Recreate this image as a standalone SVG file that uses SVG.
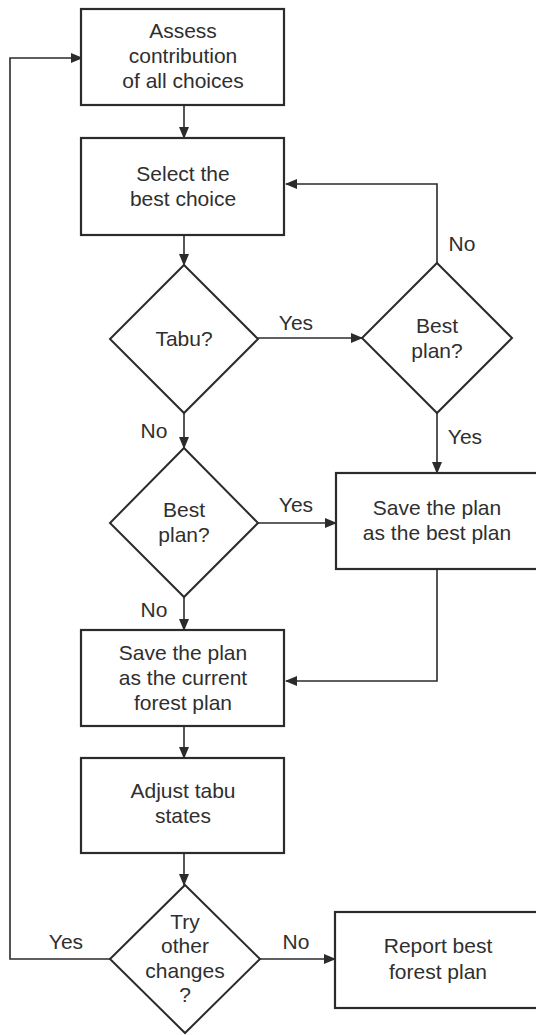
<svg xmlns="http://www.w3.org/2000/svg" width="536" height="1035" viewBox="0 0 536 1035">
  <style>
    .box { fill: #fff; stroke: #2b2b2b; stroke-width: 2.2; }
    .dia { fill: #fff; stroke: #2b2b2b; stroke-width: 2; stroke-linejoin: miter; }
    .lbl { font-family: "Liberation Sans", Arial, sans-serif; font-size: 21px; fill: #2f2f2f; text-anchor: middle; }
    .edge { fill: none; stroke: #2b2b2b; stroke-width: 1.6; marker-end: url(#arrow); }
  </style>
  <defs>
    <marker id="arrow" markerUnits="userSpaceOnUse" markerWidth="12" markerHeight="10" refX="11" refY="5" orient="auto">
      <path d="M0,0 L12,5 L0,10 Z" fill="#2b2b2b"/>
    </marker>
  </defs>
  <rect width="536" height="1035" fill="#fff"/>

  <!-- connectors and their labels -->
  <g id="connectors">
    <path class="edge" d="M184,105 V138"/>
    <path class="edge" d="M184,235 V265"/>
    <path class="edge" d="M258,338 H362"/>
    <path class="edge" d="M437,263 V184 H286"/>
    <path class="edge" d="M437,413 V473"/>
    <path class="edge" d="M184,413 V448"/>
    <path class="edge" d="M258,523 H336"/>
    <path class="edge" d="M184,597 V630"/>
    <path class="edge" d="M437,569 V681 H286"/>
    <path class="edge" d="M184,726 V758"/>
    <path class="edge" d="M184,853 V885"/>
    <path class="edge" d="M260,959 H335"/>
    <path class="edge" d="M110,959 H10 V58 H82"/>
    <text class="lbl" x="296" y="330">Yes</text>
    <text class="lbl" x="462" y="251">No</text>
    <text class="lbl" x="465" y="444">Yes</text>
    <text class="lbl" x="154" y="438">No</text>
    <text class="lbl" x="296" y="512">Yes</text>
    <text class="lbl" x="154" y="617">No</text>
    <text class="lbl" x="66" y="949">Yes</text>
    <text class="lbl" x="296" y="949">No</text>
  </g>

  <g id="assess">
    <rect class="box" x="81" y="9" width="203" height="96"/>
    <text class="lbl" x="183" y="38">Assess</text>
    <text class="lbl" x="183" y="63">contribution</text>
    <text class="lbl" x="183" y="88">of all choices</text>
  </g>

  <g id="select">
    <rect class="box" x="81" y="138" width="203" height="97"/>
    <text class="lbl" x="183" y="181">Select the</text>
    <text class="lbl" x="183" y="206">best choice</text>
  </g>

  <g id="tabu">
    <polygon class="dia" points="184,265 258,339 184,413 110,339"/>
    <text class="lbl" x="184" y="346">Tabu?</text>
  </g>

  <g id="best-plan-1">
    <polygon class="dia" points="437,263 512,338 437,413 362,338"/>
    <text class="lbl" x="437" y="333">Best</text>
    <text class="lbl" x="437" y="358">plan?</text>
  </g>

  <g id="best-plan-2">
    <polygon class="dia" points="184,448 258,523 184,597 110,523"/>
    <text class="lbl" x="184" y="517">Best</text>
    <text class="lbl" x="184" y="542">plan?</text>
  </g>

  <g id="save-best">
    <rect class="box" x="336" y="473" width="206" height="96"/>
    <text class="lbl" x="437" y="515">Save the plan</text>
    <text class="lbl" x="437" y="540">as the best plan</text>
  </g>

  <g id="save-current">
    <rect class="box" x="81" y="630" width="203" height="96"/>
    <text class="lbl" x="183" y="660">Save the plan</text>
    <text class="lbl" x="183" y="685">as the current</text>
    <text class="lbl" x="183" y="710">forest plan</text>
  </g>

  <g id="adjust">
    <rect class="box" x="81" y="758" width="203" height="95"/>
    <text class="lbl" x="183" y="798">Adjust tabu</text>
    <text class="lbl" x="183" y="823">states</text>
  </g>

  <g id="try-other">
    <polygon class="dia" points="185,885 260,959 185,1033 110,959"/>
    <text class="lbl" x="185" y="929">Try</text>
    <text class="lbl" x="185" y="953">other</text>
    <text class="lbl" x="185" y="978">changes</text>
    <text class="lbl" x="185" y="1002">?</text>
  </g>

  <g id="report">
    <rect class="box" x="335" y="912" width="206" height="96"/>
    <text class="lbl" x="438" y="953">Report best</text>
    <text class="lbl" x="438" y="979">forest plan</text>
  </g>
</svg>
